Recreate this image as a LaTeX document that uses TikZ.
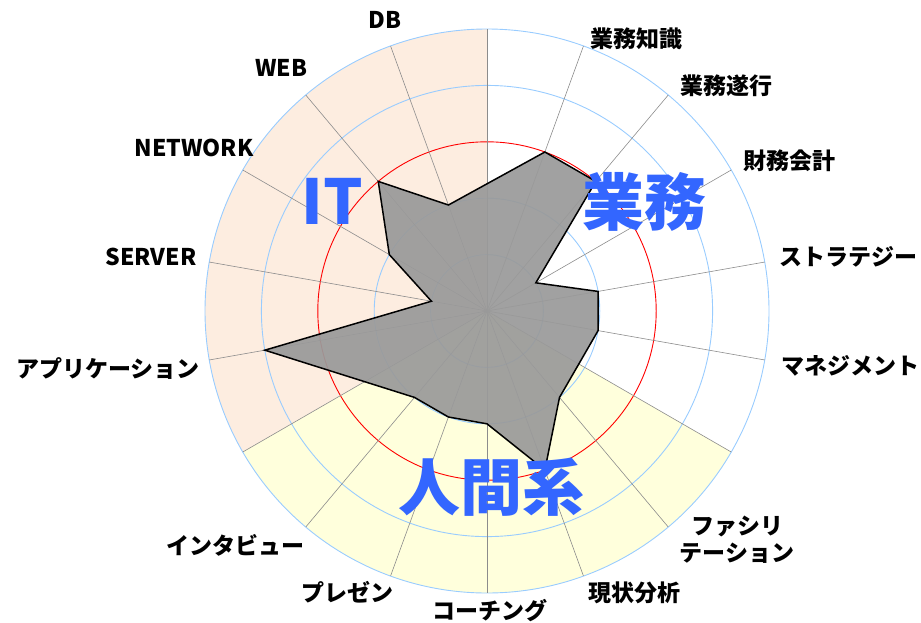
\documentclass[tikz,border=0pt]{standalone}
\usepackage{fontspec}
\newfontfamily\jp{Noto Sans CJK JP}
\definecolor{ringblue}{HTML}{99CCFF}
\definecolor{itfill}{HTML}{FDEDE0}
\definecolor{hufill}{HTML}{FFFFDC}
\definecolor{polyfill}{HTML}{9A9A9A}
\definecolor{bigblue}{HTML}{3366FF}
\definecolor{spokegray}{HTML}{8C8C8C}
\begin{document}
\begin{tikzpicture}[x=1pt,y=1pt,
  ring/.style={draw=ringblue,line width=0.9pt},
  redring/.style={draw=red,line width=0.9pt},
  spoke/.style={draw=spokegray,line width=0.6pt},
  poly/.style={draw=black,line width=1.5pt,fill=polyfill,fill opacity=0.93,line join=miter},
  lbl/.style={font=\jp\bfseries\fontsize{23}{27}\selectfont,inner sep=0pt,align=center},
  big/.style={font=\jp\bfseries\fontsize{62}{62}\selectfont,text=bigblue,inner sep=0pt}]
\useasboundingbox (0,-622) rectangle (921,0);
\begin{scope}[shift={(487,-311)}]
  \fill[itfill] (0,0) -- (90:282) arc[start angle=90,end angle=210,radius=282] -- cycle;
  \fill[hufill] (0,0) -- (210:282) arc[start angle=210,end angle=330,radius=282] -- cycle;
  \foreach \r in {56.4,112.8,225.6,282} \draw[ring] (0,0) circle[radius=\r];
  \draw[redring] (0,0) circle[radius=169.2];
  \foreach \t in {0,20,...,340} \draw[spoke] (0,0) -- ({90-\t}:282);
  \draw[poly] (70:169.2) -- (50:169.2) -- (30:56.4) -- (10:112.8) -- (-10:112.8)
    -- (-50:112.8) -- (-70:169.2) -- (-90:112.8) -- (-110:112.8) -- (-130:112.8)
    -- (-170:225.6) -- (170:56.4) -- (150:112.8) -- (130:169.2) -- (110:112.8) -- cycle;
\end{scope}
\node[lbl] (db) at (385,-20) {DB};
\node[lbl] (web) at (281,-68) {WEB};
\node[lbl] (net) at (194,-148) {NETWORK};
\node[lbl] (srv) at (151,-257) {SERVER};
\node[lbl] (app) at (108,-369) {アプリケーション};
\node[lbl] (itv) at (235,-545) {インタビュー};
\node[lbl] (pre) at (347,-592) {プレゼン};
\node[lbl] (coa) at (490,-611) {コーチング};
\node[lbl] (gen) at (634,-593) {現状分析};
\node[lbl] (fac) at (737,-540) {ファシリ\\テーション};
\node[lbl] (man) at (850,-366) {マネジメント};
\node[lbl] (str) at (848,-257) {ストラテジー};
\node[lbl] (zai) at (789,-161) {財務会計};
\node[lbl] (sui) at (726,-86) {業務遂行};
\node[lbl] (chi) at (636,-39) {業務知識};
\node[big] (it) at (332,-201) {IT};
\node[big] (gyo) at (644,-202) {業務};
\node[big] (nin) at (491,-487) {人間系};
\end{tikzpicture}
\end{document}
